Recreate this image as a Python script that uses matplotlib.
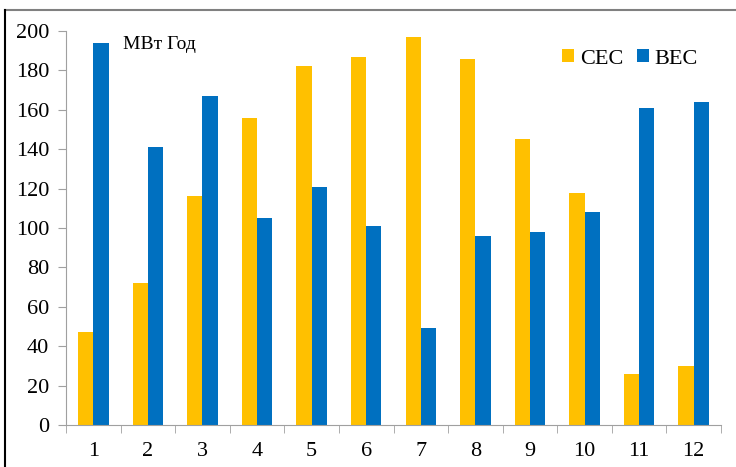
import matplotlib.pyplot as plt
import numpy as np
from matplotlib.lines import Line2D

# =============================================================================
# Data
# =============================================================================
months = ['1', '2', '3', '4', '5', '6', '7', '8', '9', '10', '11', '12']
cec = [47, 72, 116, 156, 182, 187, 197, 186, 145, 118, 26, 30]
bec = [194, 141, 167, 105, 121, 101, 49, 96, 98, 108, 161, 164]

plt.rcParams['font.family'] = ['Liberation Serif', 'DejaVu Serif']

fig = plt.figure(figsize=(7.36, 4.67), dpi=100)
ax = fig.add_axes([0.0897, 0.0899, 0.8899, 0.8437])

x = np.arange(len(months))
w = 0.28
ax.bar(x - w / 2, cec, w, color='#FFC000', label='СЕС')
ax.bar(x + w / 2, bec, w, color='#0070C0', label='ВЕС')

ax.set_xlim(-0.5, len(months) - 0.5)
ax.set_ylim(0, 200)
ax.set_yticks(np.arange(0, 201, 20))
ax.set_xticks(x)
ax.set_xticklabels(months)
ax.set_xticks(np.arange(-0.5, len(months), 1), minor=True)

ax.tick_params(axis='x', which='major', length=0, pad=12, labelsize=16)
ax.tick_params(axis='x', which='minor', length=6, color='#A0A0A0')
ax.tick_params(axis='y', length=6, color='#A0A0A0', labelsize=16, pad=6)

for s in ['top', 'right']:
    ax.spines[s].set_visible(False)
for s in ['left', 'bottom']:
    ax.spines[s].set_color('#A0A0A0')

ax.text(0.54, 193, 'МВт Год', fontsize=14, va='center', ha='left')

ax.legend(loc='upper right', bbox_to_anchor=(0.995, 1.005), ncol=2, frameon=False,
          fontsize=16, handlelength=0.55, handleheight=0.55, handletextpad=0.25,
          columnspacing=0.6)

# cadre de la figure
fig.add_artist(Line2D([5 / 736, 1], [1 - 10 / 467, 1 - 10 / 467],
                      transform=fig.transFigure, color='#808080', lw=1.5))
fig.add_artist(Line2D([5 / 736, 5 / 736], [0, 1 - 10 / 467],
                      transform=fig.transFigure, color='black', lw=1.5))

fig.savefig('out.png', dpi=100)
